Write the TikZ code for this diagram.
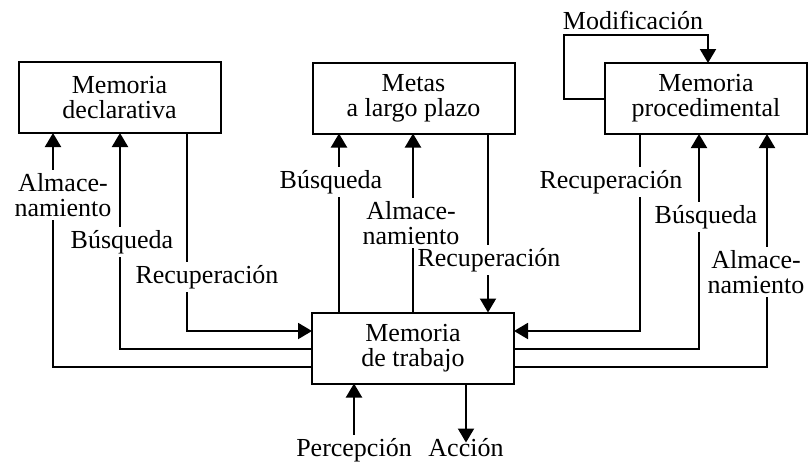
\documentclass[tikz,border=0pt]{standalone}
\usepackage{fontspec}
\setmainfont{Liberation Serif}
\usetikzlibrary{arrows.meta}
\tikzset{
  box/.style={draw, line width=1pt, minimum width=101pt, minimum height=35.5pt, inner sep=0pt, outer sep=0pt, align=center, font=\fontsize{13}{12.5}\selectfont},
  lbl/.style={fill=white, inner xsep=1pt, inner ysep=1.5pt, align=center, font=\fontsize{13}{12.5}\selectfont},
  conn/.style={line width=1pt},
  arr/.style={line width=1pt, -{Triangle[width=8pt,length=7pt]}}
}
\begin{document}
\begin{tikzpicture}[x=0.5pt,y=-0.5pt]
\useasboundingbox (0,0) rectangle (808,463);
% boxes
\node[box] (decl) at (119.5,97.5) {Memoria\\declarativa};
\node[box] (metas) at (413.5,98) {Metas\\a largo plazo};
\node[box] (proc) at (706,98.5) {Memoria\\procedimental};
\node[box] (wm) at (413,348) {Memoria\\de trabajo};
% declarative connectors
\draw[arr] (wm.west |- 0,367) -| (decl.south -| 53,0);
\draw[arr] (wm.west |- 0,349) -| (decl.south -| 120,0);
\draw[arr] (decl.south -| 187,0) |- (wm.west |- 0,331);
% metas connectors
\draw[arr] (wm.north -| 339,0) -- (metas.south -| 339,0);
\draw[arr] (wm.north -| 413,0) -- (metas.south -| 413,0);
\draw[arr] (metas.south -| 488,0) -- (wm.north -| 488,0);
% procedural connectors
\draw[arr] (proc.south -| 640,0) |- (wm.east |- 0,331);
\draw[arr] (wm.east |- 0,349) -| (proc.south -| 699,0);
\draw[arr] (wm.east |- 0,367) -| (proc.south -| 767,0);
% modification loop
\node[lbl] (modif) at (633,20) {Modificación};
\draw[arr] (proc.west) -| (564,35) -| (proc.north -| 708,0);
% labels on lines
\node[lbl] (almd) at (63,195) {Almace-\\namiento};
\node[lbl] (busd) at (122,242) {Búsqueda};
\node[lbl] (recd) at (207,277) {Recuperación};
\node[lbl] (busm) at (331,182) {Búsqueda};
\node[lbl] (almm) at (411,223) {Almace-\\namiento};
\node[lbl] (recm) at (489,260) {Recuperación};
\node[lbl] (recp) at (611,182) {Recuperación};
\node[lbl] (busp) at (706,217) {Búsqueda};
\node[lbl] (almp) at (756,272) {Almace-\\namiento};
% input / output
\node[lbl, anchor=base] (perc) at (354,456) {Percepción};
\node[lbl, anchor=base] (acc) at (466,456) {Acción};
\draw[arr] (perc.north) -- (perc.north |- wm.south);
\draw[arr] (wm.south -| acc.north) -- ([yshift=-4pt]acc.north);
\end{tikzpicture}
\end{document}
